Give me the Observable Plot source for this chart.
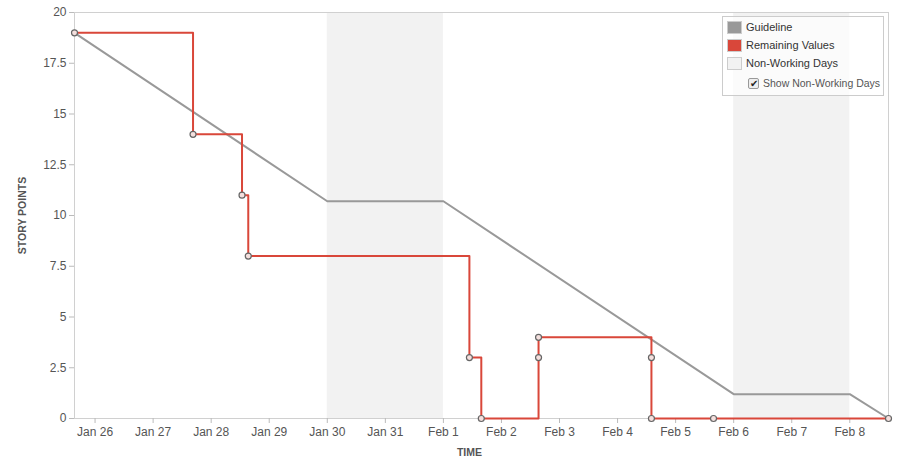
<!DOCTYPE html>
<html>
<head>
<meta charset="utf-8">
<script src="https://cdn.jsdelivr.net/npm/d3@7"></script>
<script src="https://cdn.jsdelivr.net/npm/@observablehq/plot@0.6"></script>
<style>
  html, body { margin: 0; padding: 0; background: #fff; }
  #wrap { position: relative; width: 900px; height: 461px; font-family: "Liberation Sans", Arial, sans-serif; }
  #legend { position: absolute; left: 722px; top: 16px; width: 160px; height: 78px; border: 1px solid #ccc; background: rgba(255,255,255,0.65); font-size: 11px; color: #333; }
  .row { position: absolute; left: 4px; height: 14px; display: flex; align-items: center; white-space: nowrap; }
  .sw { width: 13px; height: 11px; border: 1px solid #ccc; margin-right: 4px; }
  .chk { position: absolute; left: 25px; top: 60px; display: flex; align-items: center; color: #555; white-space: nowrap; font-size: 10.5px; }
  .chk span.box { width: 9px; height: 9px; border: 1px solid #999; border-radius: 2px; background: #eee; margin-right: 4px; position: relative; font-size: 10px; line-height: 9px; text-align: center; color: #222; }
</style>
</head>
<body>
<div id="wrap">
  <div id="chart"></div>
  <div id="legend"></div>
</div>
<script>
// Guideline (ideal burndown)
const guideDates = ["2021-01-25T15:30Z", "2021-01-30T00:00Z", "2021-02-01T00:00Z", "2021-02-06T00:00Z", "2021-02-08T00:00Z", "2021-02-08T16:00Z"];
const guideValues = [19, 10.7, 10.7, 1.2, 1.2, 0];

// Remaining values (actual burndown)
const remDates = ["2021-01-25T15:30Z", "2021-01-27T16:30Z", "2021-01-28T12:45Z", "2021-01-28T15:20Z", "2021-02-01T10:45Z", "2021-02-01T15:40Z", "2021-02-02T15:20Z", "2021-02-02T15:20Z", "2021-02-04T14:00Z", "2021-02-04T14:00Z", "2021-02-05T15:40Z", "2021-02-08T16:00Z"];
const remValues = [19, 14, 11, 8, 3, 0, 3, 4, 3, 0, 0, 0];

// Non-working days
const nonWorkStart = ["2021-01-30T00:00Z", "2021-02-06T00:00Z"];
const nonWorkEnd = ["2021-02-01T00:00Z", "2021-02-08T00:00Z"];

// Axis ticks
const yTicks = [0, 2.5, 5, 7.5, 10, 12.5, 15, 17.5, 20];
const xDomain = ["2021-01-25T15:30Z", "2021-02-08T16:00Z"];

// Legend entries
const legendLabels = ["Guideline", "Remaining Values", "Non-Working Days"];
const legendColors = ["#999999", "#d9473a", "#f2f2f2"];
const checkboxLabel = "Show Non-Working Days";

const guide = guideDates.map((d, i) => ({date: new Date(d), value: guideValues[i]}));
const rem = remDates.map((d, i) => ({date: new Date(d), value: remValues[i]}));
const nonWork = nonWorkStart.map((d, i) => ({x1: new Date(d), x2: new Date(nonWorkEnd[i])}));
const xTicks = d3.utcDay.range(new Date("2021-01-26T00:00Z"), new Date("2021-02-08T12:00Z"));

const chart = Plot.plot({
  width: 900,
  height: 461,
  marginLeft: 74,
  marginRight: 12,
  marginTop: 12,
  marginBottom: 43,
  style: {fontFamily: "Liberation Sans, Arial, sans-serif", fontSize: "12px", color: "#555", background: "#fff"},
  x: {type: "utc", domain: xDomain.map(d => new Date(d))},
  y: {domain: [0, 20]},
  marks: [
    Plot.rect(nonWork, {x1: "x1", x2: "x2", fill: "#f2f2f2"}),
    Plot.frame({stroke: "#d0d0d0"}),
    Plot.axisY({ticks: yTicks, tickFormat: d => String(d), tickSize: 5, tickPadding: 3, stroke: "#bbb", fill: "#555", fontSize: 12,
      label: "STORY POINTS", labelAnchor: "center", labelArrow: "none", labelOffset: 56}),
    Plot.axisX({ticks: xTicks, tickFormat: d3.utcFormat("%b %-d"), tickSize: 5, tickPadding: 4, stroke: "#bbb", fill: "#555", fontSize: 12,
      label: null}),
    Plot.text(["TIME"], {frameAnchor: "bottom", dy: 37, fill: "#555", fontSize: 10.5, fontWeight: "bold", dx: -12}),
    Plot.line(guide, {x: "date", y: "value", stroke: "#999999", strokeWidth: 2}),
    Plot.line(rem, {x: "date", y: "value", stroke: "#d9473a", strokeWidth: 2, curve: "step-after"}),
    Plot.dot(rem, {x: "date", y: "value", r: 3, fill: "#f4e0de", stroke: "#666", strokeWidth: 1.2})
  ]
});
chart.querySelectorAll("g[aria-label='y-axis label'] text").forEach(t => { t.setAttribute("font-size", "10.5"); t.setAttribute("font-weight", "bold"); });
document.getElementById("chart").appendChild(chart);

const legend = document.getElementById("legend");
legendLabels.forEach((lab, i) => {
  const row = document.createElement("div");
  row.className = "row";
  row.style.top = (3 + i * 18) + "px";
  const sw = document.createElement("span");
  sw.className = "sw";
  sw.style.background = legendColors[i];
  const tx = document.createElement("span");
  tx.textContent = lab;
  row.appendChild(sw);
  row.appendChild(tx);
  legend.appendChild(row);
});
const chk = document.createElement("div");
chk.className = "chk";
chk.innerHTML = '<span class="box">&#10004;</span><span></span>';
chk.lastChild.textContent = checkboxLabel;
legend.appendChild(chk);
</script>
</body>
</html>
